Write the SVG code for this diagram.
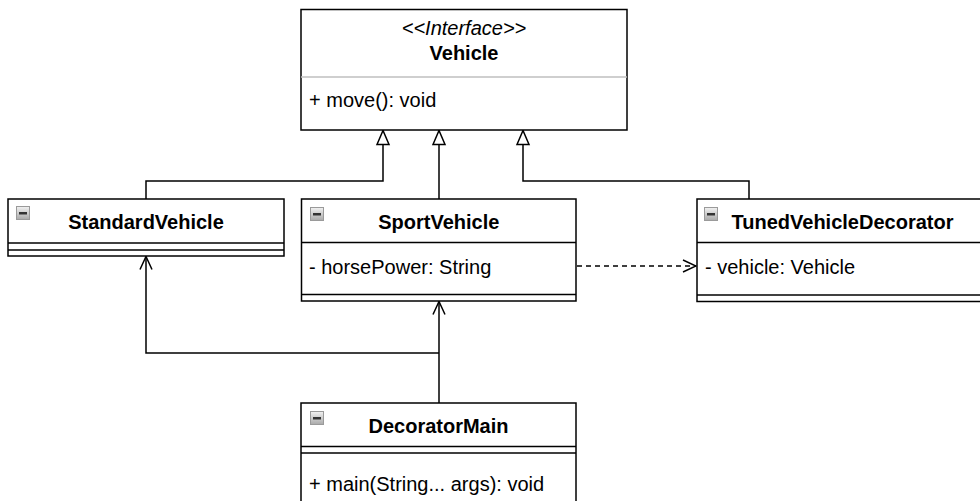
<svg xmlns="http://www.w3.org/2000/svg" width="980" height="501" viewBox="0 0 980 501">
  <defs>
    <linearGradient id="icg" x1="0" y1="0" x2="0" y2="1">
      <stop offset="0" stop-color="#f2f2f2"/>
      <stop offset="1" stop-color="#a9a9a9"/>
    </linearGradient>
    <marker id="tri" viewBox="0 0 16 16" refX="15" refY="8" markerWidth="16" markerHeight="16" markerUnits="userSpaceOnUse" orient="auto">
      <path d="M1 2 L15 8 L1 14 Z" fill="#fff" stroke="#000" stroke-width="1.5"/>
    </marker>
    <marker id="open" viewBox="0 0 16 16" refX="15" refY="8" markerWidth="16" markerHeight="16" markerUnits="userSpaceOnUse" orient="auto">
      <path d="M2 2 L15 8 L2 14" fill="none" stroke="#000" stroke-width="1.5"/>
    </marker>
  </defs>
  <style>
    .box { fill: #fff; stroke: #000; stroke-width: 1.5; }
    .sep { stroke: #000; stroke-width: 1.5; fill: none; }
    .lsep { stroke: #bfbfbf; stroke-width: 1.5; fill: none; }
    text { font-family: "Liberation Sans", Arial, Helvetica, sans-serif; font-size: 20px; fill: #000; }
    .title { font-weight: bold; text-anchor: middle; }
    .stereo { font-style: italic; text-anchor: middle; }
    .icon { fill: url(#icg); stroke: #9a9a9a; stroke-width: 1; }
    .bar { fill: #333; }
    .edge { fill: none; stroke: #000; stroke-width: 1.5; }
    .dash { stroke-dasharray: 5 4; }
  </style>

  <g id="connectors">
    <path class="edge" d="M146 199 V181 H383 V130.5" marker-end="url(#tri)"/>
    <path class="edge" d="M439 199 V130.5" marker-end="url(#tri)"/>
    <path class="edge" d="M749 199 V181 H523 V130.5" marker-end="url(#tri)"/>
    <path class="edge dash" d="M577 266 H696" marker-end="url(#open)"/>
    <path class="edge" d="M439 403 V301.5" marker-end="url(#open)"/>
    <path class="edge" d="M439 353 H146 V256.5" marker-end="url(#open)"/>
  </g>

  <g id="Vehicle">
    <rect class="box" x="301" y="9.5" width="326" height="120.5"/>
    <line class="lsep" x1="301" y1="77" x2="627" y2="77"/>
    <text class="stereo" x="464" y="35">&lt;&lt;Interface&gt;&gt;</text>
    <text class="title" x="464" y="60">Vehicle</text>
    <text x="309" y="107">+ move(): void</text>
  </g>

  <g id="StandardVehicle">
    <rect class="box" x="8" y="199" width="276" height="57"/>
    <line class="sep" x1="8" y1="243" x2="284" y2="243"/>
    <line class="sep" x1="8" y1="250" x2="284" y2="250"/>
    <rect class="icon" x="16.5" y="206.5" width="13" height="13"/>
    <rect class="bar" x="19" y="212" width="8" height="2.5"/>
    <text class="title" x="146" y="229">StandardVehicle</text>
  </g>

  <g id="SportVehicle">
    <rect class="box" x="301.5" y="199" width="274.5" height="102"/>
    <line class="sep" x1="301.5" y1="242.5" x2="576" y2="242.5"/>
    <line class="sep" x1="301.5" y1="294.5" x2="576" y2="294.5"/>
    <rect class="icon" x="310.5" y="207.5" width="13" height="13"/>
    <rect class="bar" x="313" y="213" width="8" height="2.5"/>
    <text class="title" x="438.8" y="229">SportVehicle</text>
    <text x="309" y="274">- horsePower: String</text>
  </g>

  <g id="TunedVehicleDecorator">
    <rect class="box" x="697" y="199" width="291" height="102.5"/>
    <line class="sep" x1="697" y1="242.5" x2="988" y2="242.5"/>
    <line class="sep" x1="697" y1="295" x2="988" y2="295"/>
    <rect class="icon" x="704.5" y="207.5" width="13" height="13"/>
    <rect class="bar" x="707" y="213" width="8" height="2.5"/>
    <text class="title" x="842.5" y="229">TunedVehicleDecorator</text>
    <text x="705" y="274">- vehicle: Vehicle</text>
  </g>

  <g id="DecoratorMain">
    <rect class="box" x="301" y="403" width="275" height="110"/>
    <line class="sep" x1="301" y1="446.5" x2="576" y2="446.5"/>
    <line class="sep" x1="301" y1="453" x2="576" y2="453"/>
    <rect class="icon" x="310.5" y="411.5" width="13" height="13"/>
    <rect class="bar" x="313" y="417" width="8" height="2.5"/>
    <text class="title" x="438.5" y="433">DecoratorMain</text>
    <text x="309" y="491">+ main(String... args): void</text>
  </g>
</svg>
